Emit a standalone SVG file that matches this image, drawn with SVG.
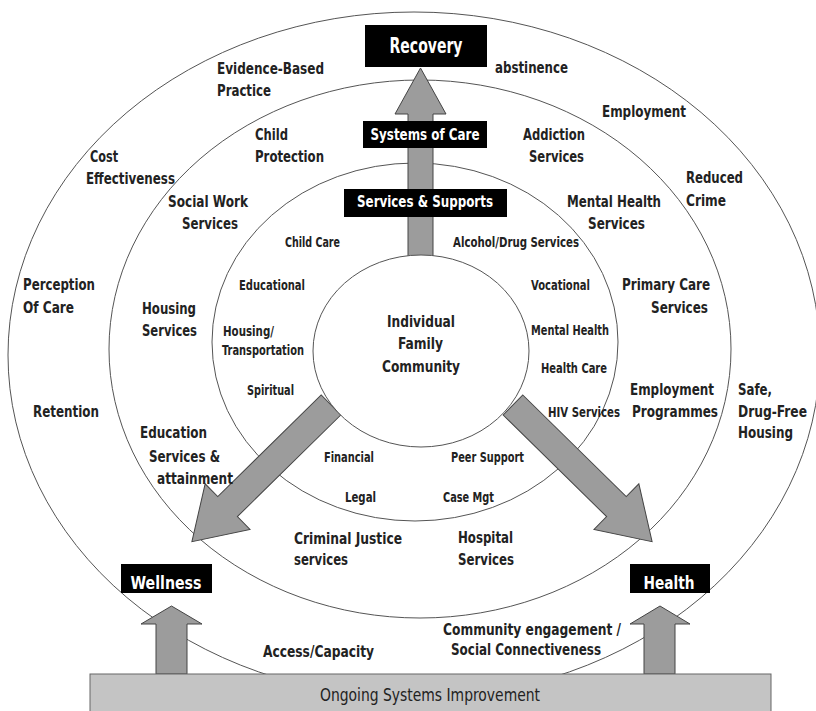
<svg xmlns="http://www.w3.org/2000/svg" width="816" height="711" viewBox="0 0 816 711">
<style>
text{font-family:"DejaVu Sans Condensed","DejaVu Sans",sans-serif;font-stretch:condensed;font-weight:bold;fill:#222}
.lg{font-size:16px}
.sm{font-size:14px}
.bx{fill:#fff;text-anchor:middle}
.ring{fill:none;stroke:#555;stroke-width:1}
.arr{fill:#9c9c9c;stroke:#444;stroke-width:1}
.box{fill:#000}
.bar{fill:#c4c4c4;stroke:#666;stroke-width:1}
.bart{font-weight:normal;font-size:17px;fill:#222}
</style>
<rect width="816" height="711" fill="#fff"/>
<g id="rings">
<ellipse class="ring" cx="414" cy="355" rx="406" ry="343"/>
<ellipse class="ring" cx="420" cy="349" rx="311" ry="269"/>
<ellipse class="ring" cx="415" cy="342" rx="203" ry="179"/>
</g>
<g id="connectors">
<polygon class="arr" points="408,258 408,114 395,114 420.5,68 446,114 433,114 433,258"/>
<polygon class="arr" transform="translate(513,405) rotate(44.5)" points="0,-14 145,-14 145,-32 195,0 145,32 145,14 0,14"/>
<polygon class="arr" transform="translate(331,405) rotate(135.5)" points="0,-14 145,-14 145,-32 195,0 145,32 145,14 0,14"/>
<polygon class="arr" points="156,674 156,624 141,624 171.5,606 202,624 187,624 187,674"/>
<polygon class="arr" points="644,674 644,624 630,624 660,606 690,624 675,624 675,674"/>
</g>
<g id="center">
<ellipse cx="421" cy="351" rx="108" ry="96" fill="#fff" stroke="#555" stroke-width="1"/>
<text class="lg" x="387" y="327" textLength="68" lengthAdjust="spacingAndGlyphs">Individual</text>
<text class="lg" x="398" y="349" textLength="45" lengthAdjust="spacingAndGlyphs">Family</text>
<text class="lg" x="382" y="372" textLength="78" lengthAdjust="spacingAndGlyphs">Community</text>
</g>
<g id="recovery"><rect class="box" x="365" y="25" width="122" height="42"/><text class="bx" x="426" y="53" font-size="21" textLength="73" lengthAdjust="spacingAndGlyphs">Recovery</text></g>
<g id="systems-of-care"><rect class="box" x="363" y="121" width="124" height="27"/><text class="bx lg" x="425" y="140" textLength="109" lengthAdjust="spacingAndGlyphs">Systems of Care</text></g>
<g id="services-supports"><rect class="box" x="344" y="189" width="163" height="28"/><text class="bx lg" x="425" y="207" textLength="136" lengthAdjust="spacingAndGlyphs">Services &amp; Supports</text></g>
<g id="wellness"><rect class="box" x="121" y="564" width="91" height="29"/><text class="bx" x="166" y="589" font-size="18" textLength="71" lengthAdjust="spacingAndGlyphs">Wellness</text></g>
<g id="health"><rect class="box" x="630" y="564" width="80" height="29"/><text class="bx" x="669" y="589" font-size="18" textLength="51" lengthAdjust="spacingAndGlyphs">Health</text></g>
<g id="outer-labels">
<text class="lg" x="217" y="74" textLength="107" lengthAdjust="spacingAndGlyphs">Evidence-Based</text>
<text class="lg" x="217" y="96" textLength="54" lengthAdjust="spacingAndGlyphs">Practice</text>
<text class="lg" x="495" y="73" textLength="73" lengthAdjust="spacingAndGlyphs">abstinence</text>
<text class="lg" x="602" y="117" textLength="84" lengthAdjust="spacingAndGlyphs">Employment</text>
<text class="lg" x="90" y="162" textLength="28" lengthAdjust="spacingAndGlyphs">Cost</text>
<text class="lg" x="86" y="184" textLength="89" lengthAdjust="spacingAndGlyphs">Effectiveness</text>
<text class="lg" x="686" y="183" textLength="57" lengthAdjust="spacingAndGlyphs">Reduced</text>
<text class="lg" x="686" y="206" textLength="40" lengthAdjust="spacingAndGlyphs">Crime</text>
<text class="lg" x="23" y="290" textLength="72" lengthAdjust="spacingAndGlyphs">Perception</text>
<text class="lg" x="23" y="313" textLength="51" lengthAdjust="spacingAndGlyphs">Of Care</text>
<text class="lg" x="33" y="417" textLength="66" lengthAdjust="spacingAndGlyphs">Retention</text>
<text class="lg" x="738" y="395" textLength="34" lengthAdjust="spacingAndGlyphs">Safe,</text>
<text class="lg" x="738" y="417" textLength="69" lengthAdjust="spacingAndGlyphs">Drug-Free</text>
<text class="lg" x="738" y="438" textLength="55" lengthAdjust="spacingAndGlyphs">Housing</text>
<text class="lg" x="263" y="657" textLength="111" lengthAdjust="spacingAndGlyphs">Access/Capacity</text>
<text class="lg" x="443" y="635" textLength="178" lengthAdjust="spacingAndGlyphs">Community engagement /</text>
<text class="lg" x="451" y="655" textLength="150" lengthAdjust="spacingAndGlyphs">Social Connectiveness</text>
</g>
<g id="middle-labels">
<text class="lg" x="255" y="140" textLength="33" lengthAdjust="spacingAndGlyphs">Child</text>
<text class="lg" x="255" y="162" textLength="69" lengthAdjust="spacingAndGlyphs">Protection</text>
<text class="lg" x="523" y="140" textLength="62" lengthAdjust="spacingAndGlyphs">Addiction</text>
<text class="lg" x="529" y="162" textLength="55" lengthAdjust="spacingAndGlyphs">Services</text>
<text class="lg" x="168" y="207" textLength="80" lengthAdjust="spacingAndGlyphs">Social Work</text>
<text class="lg" x="182" y="229" textLength="56" lengthAdjust="spacingAndGlyphs">Services</text>
<text class="lg" x="567" y="207" textLength="94" lengthAdjust="spacingAndGlyphs">Mental Health</text>
<text class="lg" x="588" y="229" textLength="57" lengthAdjust="spacingAndGlyphs">Services</text>
<text class="lg" x="622" y="290" textLength="88" lengthAdjust="spacingAndGlyphs">Primary Care</text>
<text class="lg" x="651" y="313" textLength="57" lengthAdjust="spacingAndGlyphs">Services</text>
<text class="lg" x="142" y="314" textLength="54" lengthAdjust="spacingAndGlyphs">Housing</text>
<text class="lg" x="142" y="336" textLength="55" lengthAdjust="spacingAndGlyphs">Services</text>
<text class="lg" x="630" y="395" textLength="84" lengthAdjust="spacingAndGlyphs">Employment</text>
<text class="lg" x="632" y="417" textLength="86" lengthAdjust="spacingAndGlyphs">Programmes</text>
<text class="lg" x="140" y="438" textLength="67" lengthAdjust="spacingAndGlyphs">Education</text>
<text class="lg" x="149" y="462" textLength="71" lengthAdjust="spacingAndGlyphs">Services &amp;</text>
<text class="lg" x="157" y="484" textLength="76" lengthAdjust="spacingAndGlyphs">attainment</text>
<text class="lg" x="294" y="544" textLength="108" lengthAdjust="spacingAndGlyphs">Criminal Justice</text>
<text class="lg" x="294" y="565" textLength="54" lengthAdjust="spacingAndGlyphs">services</text>
<text class="lg" x="458" y="543" textLength="55" lengthAdjust="spacingAndGlyphs">Hospital</text>
<text class="lg" x="458" y="565" textLength="56" lengthAdjust="spacingAndGlyphs">Services</text>
</g>
<g id="inner-labels">
<text class="sm" x="285" y="247" textLength="55" lengthAdjust="spacingAndGlyphs">Child Care</text>
<text class="sm" x="453" y="247" textLength="126" lengthAdjust="spacingAndGlyphs">Alcohol/Drug Services</text>
<text class="sm" x="239" y="290" textLength="66" lengthAdjust="spacingAndGlyphs">Educational</text>
<text class="sm" x="531" y="290" textLength="59" lengthAdjust="spacingAndGlyphs">Vocational</text>
<text class="sm" x="223" y="336" textLength="51" lengthAdjust="spacingAndGlyphs">Housing/</text>
<text class="sm" x="222" y="355" textLength="82" lengthAdjust="spacingAndGlyphs">Transportation</text>
<text class="sm" x="531" y="335" textLength="78" lengthAdjust="spacingAndGlyphs">Mental Health</text>
<text class="sm" x="541" y="373" textLength="66" lengthAdjust="spacingAndGlyphs">Health Care</text>
<text class="sm" x="247" y="395" textLength="47" lengthAdjust="spacingAndGlyphs">Spiritual</text>
<text class="sm" x="548" y="417" textLength="72" lengthAdjust="spacingAndGlyphs">HIV Services</text>
<text class="sm" x="324" y="462" textLength="50" lengthAdjust="spacingAndGlyphs">Financial</text>
<text class="sm" x="451" y="462" textLength="73" lengthAdjust="spacingAndGlyphs">Peer Support</text>
<text class="sm" x="345" y="502" textLength="31" lengthAdjust="spacingAndGlyphs">Legal</text>
<text class="sm" x="443" y="502" textLength="51" lengthAdjust="spacingAndGlyphs">Case Mgt</text>
</g>
<g id="ongoing-systems-improvement">
<rect class="bar" x="90" y="674" width="681" height="40"/>
<text class="bart" x="320" y="701" textLength="220" lengthAdjust="spacingAndGlyphs">Ongoing Systems Improvement</text>
</g>
</svg>
